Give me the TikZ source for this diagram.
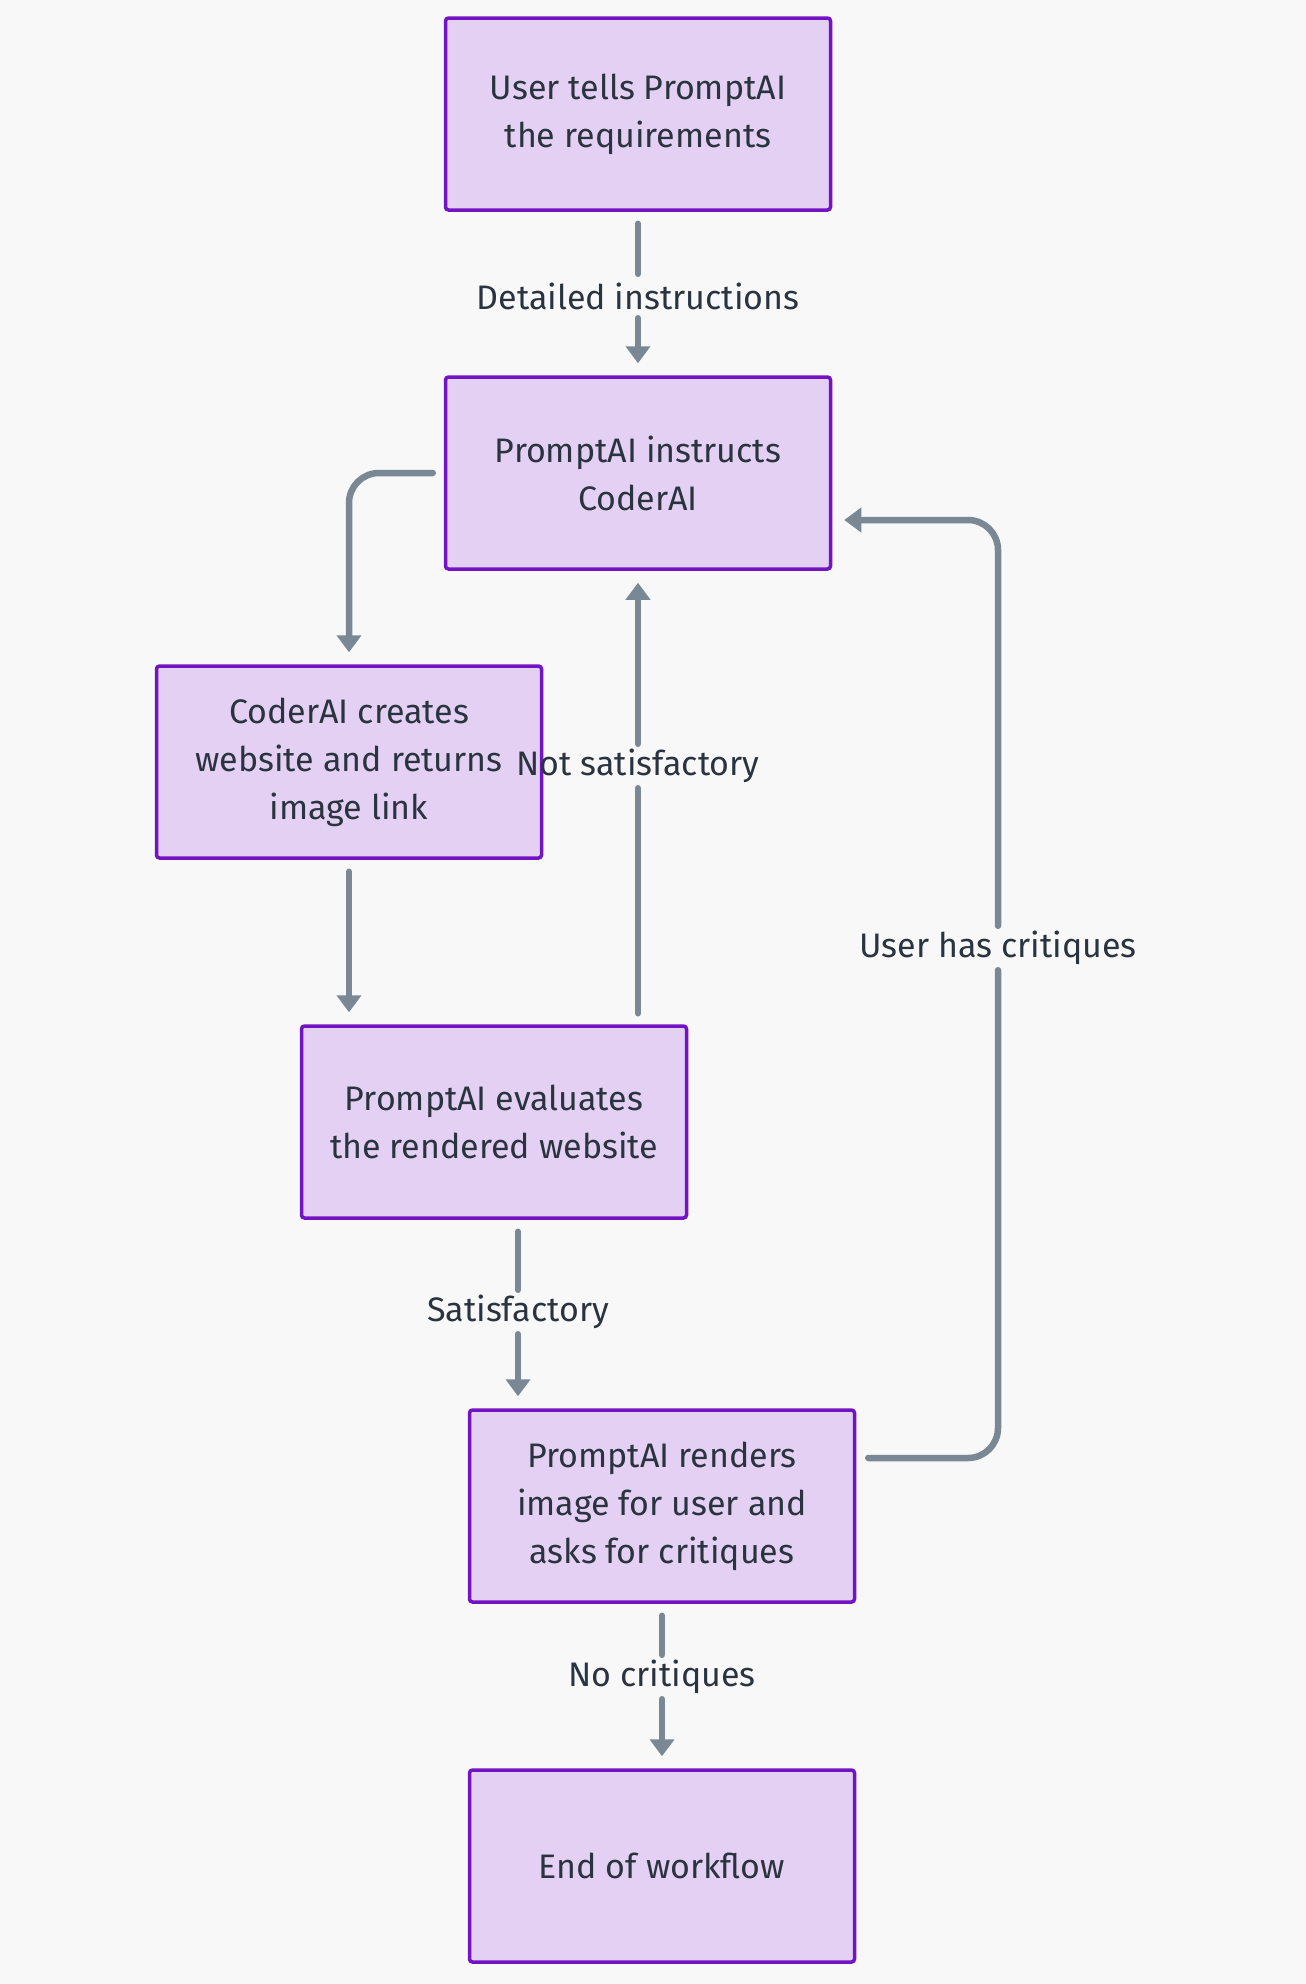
\documentclass[tikz,border=0pt]{standalone}
\usepackage{fontspec}
\setmainfont{Fira Sans}
\usetikzlibrary{arrows.meta}

\definecolor{bgcol}{HTML}{F8F8F8}
\definecolor{boxfill}{HTML}{E4D0F3}
\definecolor{boxline}{HTML}{7214C4}
\definecolor{edgecol}{HTML}{7A8896}
\definecolor{ink}{HTML}{2A3440}

\begin{document}
\begin{tikzpicture}[x=1pt, y=-1pt,
	box/.style = {draw=boxline, fill=boxfill, line width=3.5pt, rounded corners=3pt,
		minimum width=385pt, minimum height=192pt, align=center, text=ink,
		font=\fontsize{34}{48}\selectfont},
	lbl/.style = {text=ink, inner sep=0pt, minimum height=44pt, font=\fontsize{34}{48}\selectfont},
	seg/.style = {draw=edgecol, line width=6.5pt, line cap=round, rounded corners=30pt},
	flow/.style = {seg, -{Triangle[width=24pt,length=17pt]}, shorten >=12pt}]
	\fill[bgcol] (0,0) rectangle (1306,1984);
	\useasboundingbox (0,0) rectangle (1306,1984);
	% boxes
	\node[box] (b1) at (638,114) {User tells PromptAI\\the requirements};
	\node[box] (b2) at (638,473) {PromptAI instructs\\CoderAI};
	\node[box] (b3) at (349,762) {CoderAI creates\\website and returns\\image link};
	\node[box] (b4) at (494,1122) {PromptAI evaluates\\the rendered website};
	\node[box] (b5) at (662,1506) {PromptAI renders\\image for user and\\asks for critiques};
	\node[box] (b6) at (662,1866) {End of workflow};
	% edge labels
	\node[lbl] (l1) at (638,296) {Detailed instructions};
	\node[lbl] (l4) at (638,766) {Not satisfactory};
	\node[lbl] (l5) at (518,1312) {Satisfactory};
	\node[lbl] (l6) at (998,948) {User has critiques};
	\node[lbl] (l7) at (662,1677) {No critiques};
	% edges
	\draw[seg, shorten <=12pt] (b1) -- (l1);
	\draw[flow] (l1) -- (b2);
	\draw[flow, shorten <=11pt] (b2.west) -| (b3.north);
	\draw[flow, shorten <=12pt] (b3) -- (b3 |- b4.north);
	\draw[seg, shorten <=11pt] (l4 |- b4.north) -- (l4.south);
	\draw[flow] (l4.north) -- (l4 |- b2.south);
	\draw[seg, shorten <=12pt] (l5 |- b4.south) -- (l5.north);
	\draw[flow] (l5.south) -- (l5 |- b5.north);
	\draw[seg, shorten <=12pt] ([yshift=48pt]b5.east) -| (l6.south);
	\draw[flow] (l6.north) |- ([yshift=-47pt]b2.east);
	\draw[seg, shorten <=12pt] (b5) -- (l7);
	\draw[flow] (l7) -- (b6);
\end{tikzpicture}
\end{document}
